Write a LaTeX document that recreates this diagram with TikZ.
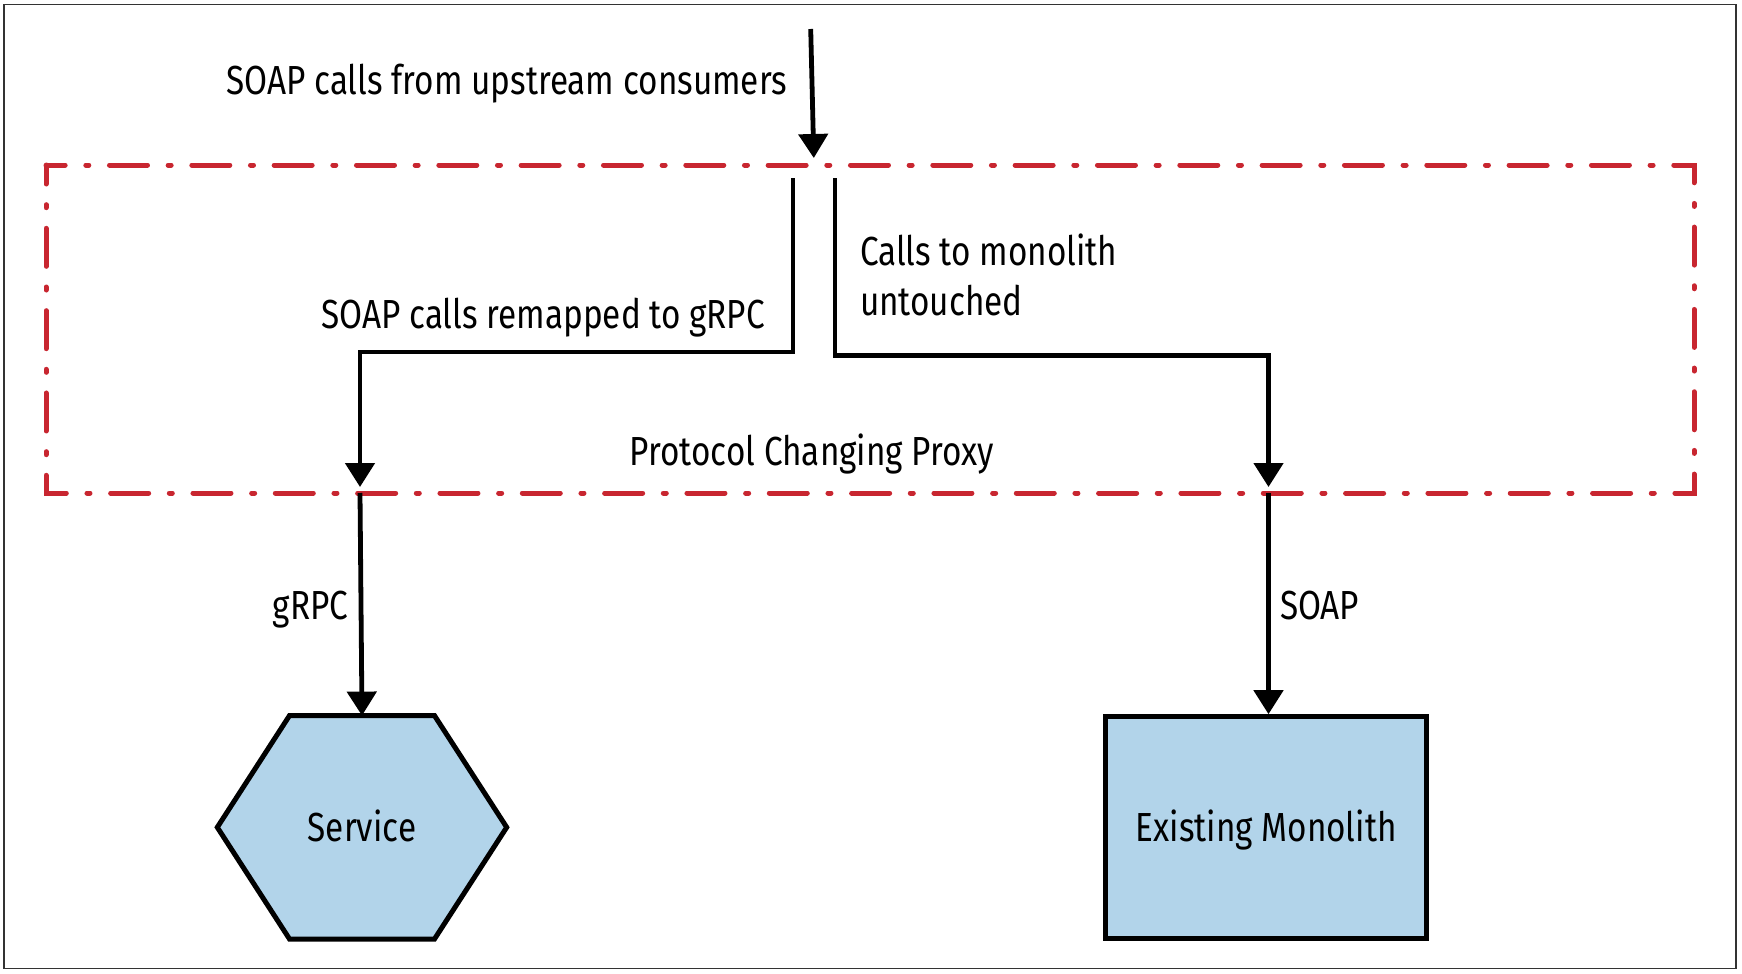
\documentclass[tikz,border=0pt]{standalone}
\usepackage{fontspec}
\setmainfont{Fira Sans}[FakeStretch=0.82]
\usetikzlibrary{arrows.meta,backgrounds}
\definecolor{proxyred}{RGB}{200,38,48}
\definecolor{boxblue}{RGB}{178,212,234}
\tikzset{
  lbl/.style={inner sep=0pt, outer sep=0pt, font=\fontsize{40.6pt}{48pt}\selectfont},
  arr/.style={draw=black, line width=4.8pt, -{Triangle[width=29pt,length=24pt]}},
  proxybox/.style={draw=proxyred, line width=5pt, line cap=round,
    dash pattern=on 38pt off 20.67pt on 3pt off 20.66pt, dash phase=19pt},
  shapebox/.style={draw=black, line width=5pt, fill=boxblue},
}
\begin{document}
\begin{tikzpicture}[x=1pt,y=-1pt]
\useasboundingbox (0,0) rectangle (1742,974);
% outer frame
\draw[black!80, line width=1.5pt] (4,4.7) rectangle (1736,968.7);
% proxy boundary
\draw[proxybox] (46,165) rectangle (1694,493);
\node[lbl, anchor=base] (tproxy) at (812,465) {Protocol Changing Proxy};

% incoming
\coordinate (src) at (810.7,29);
\coordinate (entry) at (813.8,158);
\draw[arr] (src) -- (entry);
\node[lbl, anchor=base east] (tup) at (787,94.3) {SOAP calls from upstream consumers};

% branches
\coordinate (lstart) at (793,178);
\coordinate (lout) at (360,487);
\draw[arr, line join=miter] (lstart) -- ++(0,174) -| (lout);
\node[lbl, anchor=base east] (tremap) at (765,328.3) {SOAP calls remapped to gRPC};

\coordinate (rstart) at (835,178);
\coordinate (rout) at (1268.5,487);
\draw[arr, line join=miter] (rstart) -- ++(0,177.5) -| (rout);
\node[lbl, anchor=base west] (tcalls1) at (860,265) {Calls to monolith};
\node[lbl, anchor=base west] (tcalls2) at (860,315) {untouched};

% service hexagon
\node[lbl, minimum width=145pt, minimum height=223.4pt, text height=28pt, text depth=0pt] (service) at (362,827.3) {Service};
\begin{scope}[on background layer]
\draw[shapebox] (service.north west) -- (service.north east) -- ([xshift=72.2pt]service.east)
  -- (service.south east) -- (service.south west) -- ([xshift=-72.2pt]service.west) -- cycle;
\end{scope}

% monolith
\node[shapebox, inner sep=0pt, minimum width=321pt, minimum height=221.6pt, text height=28pt, text depth=0pt,
  font=\fontsize{40.6pt}{48pt}\selectfont] (mono) at (1266.2,827.5) {Existing Monolith};

% outgoing
\coordinate (lin) at (360,493);
\draw[arr] (lin) -- (service.north);
\node[lbl, anchor=base east] (tgrpc) at (348.3,619.3) {gRPC};

\coordinate (rin) at (1268.5,493);
\draw[arr] (rin) -- (rin |- mono.north);
\node[lbl, anchor=base west] (tsoap) at (1280,619.3) {SOAP};
\end{tikzpicture}
\end{document}
